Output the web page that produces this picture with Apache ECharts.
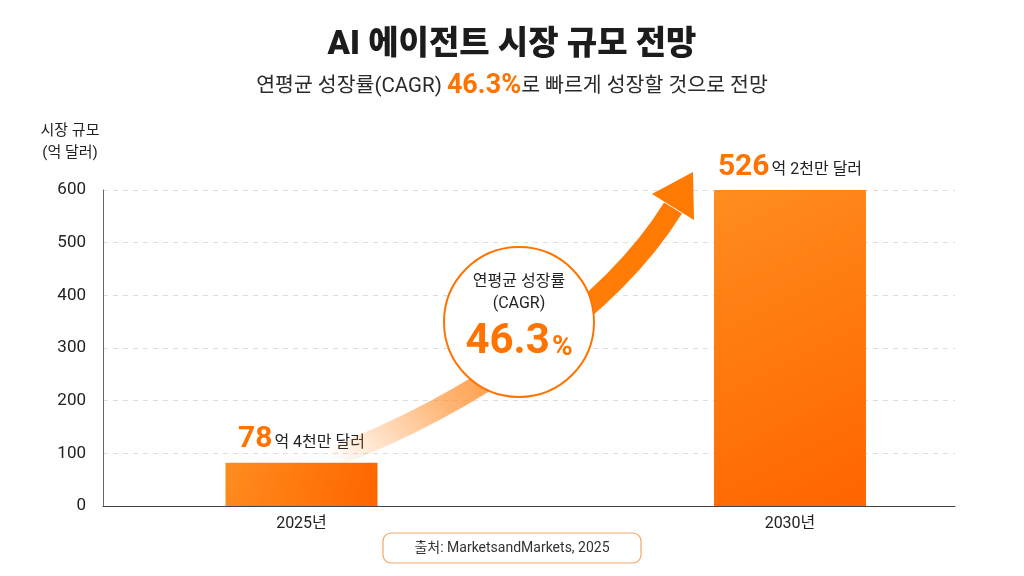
<!DOCTYPE html>
<html>
<head>
<meta charset="utf-8">
<script src="https://cdn.jsdelivr.net/npm/echarts@6/dist/echarts.min.js"></script>
<style>
  html, body { margin: 0; padding: 0; background: #fff; }
  #chart { width: 1024px; height: 576px; }
</style>
</head>
<body>
<div id="chart"></div>
<script>
var years = ['2025년', '2030년'];
var barValues = [82, 600];
var bigNums = ['78', '526'];
var unitText = ['억 4천만 달러', '억 2천만 달러'];
var yTicks = [0, 100, 200, 300, 400, 500, 600];

var FONT = 'Roboto, "Noto Sans CJK KR", sans-serif';
var ORANGE = '#ff7300';

var chart = echarts.init(document.getElementById('chart'));

var barData = barValues.map(function (v, i) {
    return {
        value: [i, v],
        itemStyle: {
            color: new echarts.graphic.LinearGradient(0, 0, 1, 1, [
                { offset: 0, color: '#ff8d1f' },
                { offset: 1, color: '#ff6400' }
            ])
        }
    };
});

option = {
    backgroundColor: '#fff',
    textStyle: { fontFamily: FONT },
    title: {
        left: 'center',
        top: 24,
        text: 'AI 에이전트 시장 규모 전망',
        textStyle: { fontSize: 33, fontWeight: 900, color: '#1c1c1c', fontFamily: FONT },
        subtext: '{n|연평균 성장률(CAGR) }{h|46.3%}{n|로 빠르게 성장할 것으로 전망}',
        itemGap: 11,
        subtextStyle: {
            rich: {
                n: { fontSize: 20.5, color: '#2a2a2a', fontFamily: FONT },
                h: { fontSize: 27, fontWeight: 'bold', color: ORANGE, fontFamily: FONT }
            }
        }
    },
    grid: { left: 103, right: 69, top: 190, bottom: 70 },
    xAxis: {
        type: 'value',
        min: -0.4063,
        max: 1.3378,
        splitLine: { show: false },
        axisLine: { show: true, onZero: false, lineStyle: { color: '#444', width: 1.2 } },
        axisTick: { show: false },
        axisLabel: {
            customValues: [0, 1],
            margin: 10,
            fontSize: 16,
            color: '#222',
            formatter: function (v) { return years[Math.round(v)]; }
        }
    },
    yAxis: {
        type: 'value',
        min: yTicks[0],
        max: yTicks[yTicks.length - 1],
        interval: 100,
        axisLine: { show: true, onZero: false, lineStyle: { color: '#666' } },
        axisTick: { show: false },
        axisLabel: { fontSize: 17, color: '#222', margin: 17 },
        splitLine: { lineStyle: { color: '#dedede', type: [5, 5] } }
    },
    series: [{
        type: 'bar',
        barWidth: 152,
        data: barData,
        label: {
            show: true,
            position: 'top',
            distance: 8,
            formatter: function (p) {
                return '{a|' + bigNums[p.dataIndex] + '}{b|' + unitText[p.dataIndex] + '}';
            },
            rich: {
                a: { fontSize: 30, fontWeight: 'bold', color: ORANGE, fontFamily: FONT },
                b: { fontSize: 16, color: '#222', fontFamily: FONT, padding: [6, 0, 0, 2] }
            }
        },
        z: 3
    }],
    graphic: [
        // 성장 화살표
        {
            type: 'bezierCurve',
            z: 5,
            shape: { x1: 330, y1: 458, cpx1: 470, cpy1: 405, cpx2: 610, cpy2: 310, x2: 673, y2: 208 },
            style: {
                fill: null,
                lineWidth: 21,
                stroke: {
                    type: 'linear', x: 330, y: 458, x2: 673, y2: 208, global: true,
                    colorStops: [
                        { offset: 0, color: 'rgba(255,140,40,0)' },
                        { offset: 0.3, color: 'rgba(255,140,40,0.65)' },
                        { offset: 0.6, color: 'rgba(255,125,10,1)' },
                        { offset: 1, color: '#ff7a00' }
                    ]
                }
            }
        },
        {
            type: 'polygon',
            z: 5,
            shape: { points: [[693, 172], [652, 194], [694, 220]] },
            style: { fill: '#ff7a00' }
        },
        // CAGR 원
        {
            type: 'circle',
            z: 6,
            shape: { cx: 519, cy: 322, r: 75 },
            style: { fill: '#fff', stroke: ORANGE, lineWidth: 2 }
        },
        {
            type: 'text', z: 7, x: 519, y: 282,
            style: { text: '연평균 성장률', align: 'center', verticalAlign: 'middle', fontSize: 16, fill: '#222', fontFamily: FONT }
        },
        {
            type: 'text', z: 7, x: 519, y: 304,
            style: { text: '(CAGR)', align: 'center', verticalAlign: 'middle', fontSize: 16, fill: '#222', fontFamily: FONT }
        },
        {
            type: 'text', z: 7, x: 519, y: 342,
            style: {
                text: '{a|46.3}{b|%}', align: 'center', verticalAlign: 'middle',
                rich: {
                    a: { fontSize: 42, fontWeight: 'bold', fill: ORANGE, fontFamily: FONT },
                    b: { fontSize: 28, fontWeight: 'bold', fill: ORANGE, fontFamily: FONT, padding: [12, 0, 0, 2] }
                }
            }
        },
        // 축 이름
        {
            type: 'text', x: 70, y: 131,
            style: { text: '시장 규모', align: 'center', verticalAlign: 'middle', fontSize: 15, fill: '#222', fontFamily: FONT }
        },
        {
            type: 'text', x: 70, y: 153,
            style: { text: '(억 달러)', align: 'center', verticalAlign: 'middle', fontSize: 15, fill: '#222', fontFamily: FONT }
        },
        // 출처
        {
            type: 'rect',
            shape: { x: 383, y: 533, width: 258, height: 30, r: 8 },
            style: { fill: '#fff', stroke: '#f6a766', lineWidth: 1.2 }
        },
        {
            type: 'text', x: 512, y: 548,
            style: { text: '출처: MarketsandMarkets, 2025', align: 'center', verticalAlign: 'middle', fontSize: 14, fill: '#333', fontFamily: FONT }
        }
    ]
};

chart.setOption(option);
</script>
</body>
</html>
